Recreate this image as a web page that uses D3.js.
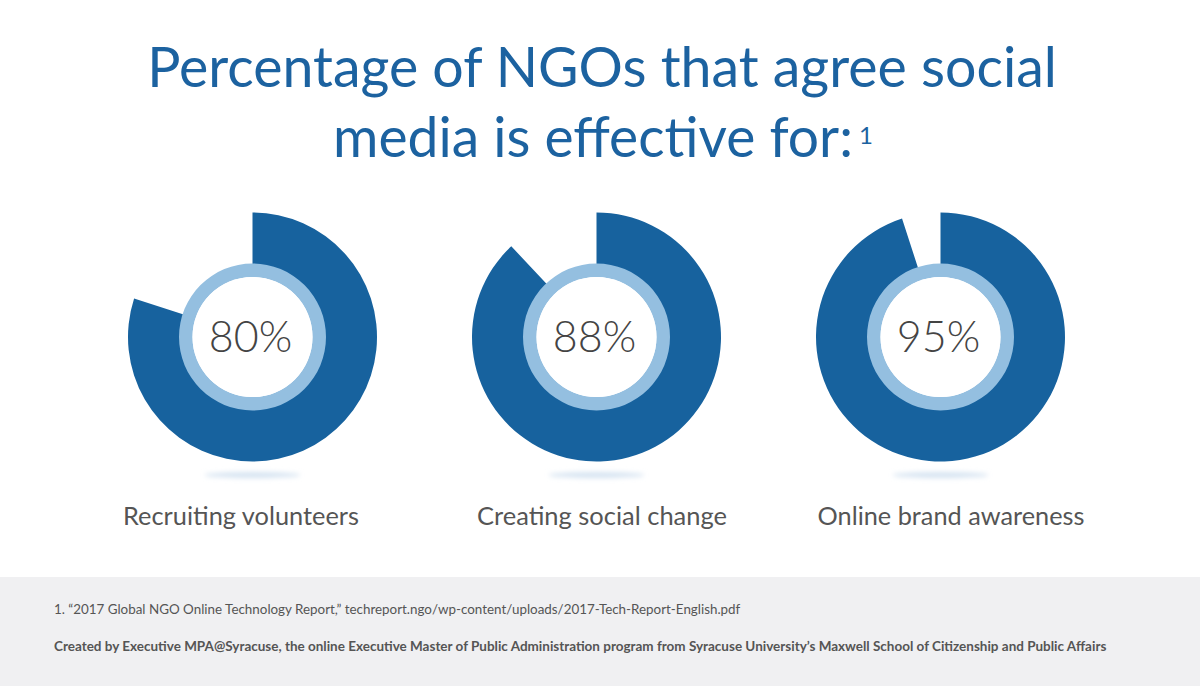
<!DOCTYPE html>
<html><head><meta charset="utf-8">
<script src="https://cdn.jsdelivr.net/npm/d3@7"></script>
<style>html,body{margin:0;padding:0;background:#fff;}svg{display:block;}</style>
</head><body>
<svg id="chart" width="1200" height="686"></svg>
<script>
const categories = ["Recruiting volunteers", "Creating social change", "Online brand awareness"];
const values = [80, 88, 95];
const valueLabels = ["80%", "88%", "95%"];
const titleLines = ["Percentage of NGOs that agree social", "media is effective for:"];
const footnote = "1. \u201c2017 Global NGO Online Technology Report,\u201d techreport.ngo/wp-content/uploads/2017-Tech-Report-English.pdf";
const credit = "Created by Executive MPA@Syracuse, the online Executive Master of Public Administration program from Syracuse University\u2019s Maxwell School of Citizenship and Public Affairs";

const W = 1200, H = 686;
const svg = d3.select("#chart");
const FONT = "Lato, 'Open Sans', sans-serif";

function fit(sel, targetW, startSize) {
  sel.style("font-size", startSize + "px");
  const w = sel.node().getComputedTextLength();
  sel.style("font-size", (startSize * targetW / w) + "px");
  return sel;
}

// defs: blur for shadows
const defs = svg.append("defs");
defs.append("filter").attr("id", "blur").attr("x", "-50%").attr("y", "-300%").attr("width", "200%").attr("height", "700%")
  .append("feGaussianBlur").attr("stdDeviation", 2.5);

// title
const t1 = svg.append("text").attr("x", 602).attr("y", 87).attr("text-anchor", "middle")
  .attr("fill", "#1c62a0").style("font-family", FONT).text(titleLines[0]);
fit(t1, 910, 60);
const t2 = svg.append("text").attr("x", 593).attr("y", 157).attr("text-anchor", "middle")
  .attr("fill", "#1c62a0").style("font-family", FONT).text(titleLines[1]);
fit(t2, 520, 60);
svg.append("text").attr("x", 859).attr("y", 144).attr("fill", "#1c62a0")
  .style("font-family", FONT).style("font-size", "24px").text("1");

// donuts
const x = d3.scalePoint().domain(categories).range([252.5, 940.5]);
const angle = d3.scaleLinear().domain([0, 100]).range([0, 2 * Math.PI]);
const cy = 337;
const arcOuter = d3.arc().innerRadius(70).outerRadius(124.5);
const ring = d3.arc().innerRadius(60).outerRadius(73.5).startAngle(0).endAngle(2 * Math.PI);
const labelX = [241, 602, 951];

const g = svg.selectAll("g.donut").data(categories).join("g")
  .attr("class", "donut")
  .attr("transform", d => `translate(${x(d)},${cy})`);

g.append("ellipse").attr("cx", 0).attr("cy", 138).attr("rx", 48).attr("ry", 3)
  .attr("fill", "#d5e3f1").attr("filter", "url(#blur)");

g.append("path").attr("fill", "#17629e")
  .attr("d", (d, i) => arcOuter({startAngle: 0, endAngle: angle(values[i])}));
g.append("path").attr("fill", "#94bfe0").attr("d", ring());
g.append("circle").attr("r", 60).attr("fill", "#fff");
g.append("text").attr("x", -2).attr("y", 15).attr("text-anchor", "middle")
  .attr("fill", "#444").style("font-family", FONT).style("font-weight", 300)
  .style("font-size", "43px").text((d, i) => valueLabels[i]);

svg.selectAll("text.cat").data(categories).join("text").attr("class", "cat")
  .attr("x", (d, i) => labelX[i]).attr("y", 525).attr("text-anchor", "middle")
  .attr("fill", "#555").style("font-family", FONT).style("font-size", "26px")
  .text(d => d)
  .each(function(d, i) {
    const widths = [236, 250, 267];
    fit(d3.select(this), widths[i], 26);
  });

// footer
svg.append("rect").attr("x", 0).attr("y", 577).attr("width", W).attr("height", H - 577).attr("fill", "#f0f0f2");
const f1 = svg.append("text").attr("x", 54).attr("y", 614).attr("fill", "#555")
  .style("font-family", FONT).text(footnote);
fit(f1, 687, 13);
const f2 = svg.append("text").attr("x", 54).attr("y", 651).attr("fill", "#555")
  .style("font-family", FONT).style("font-weight", 700).text(credit);
fit(f2, 1053, 13);
</script>
</body></html>
